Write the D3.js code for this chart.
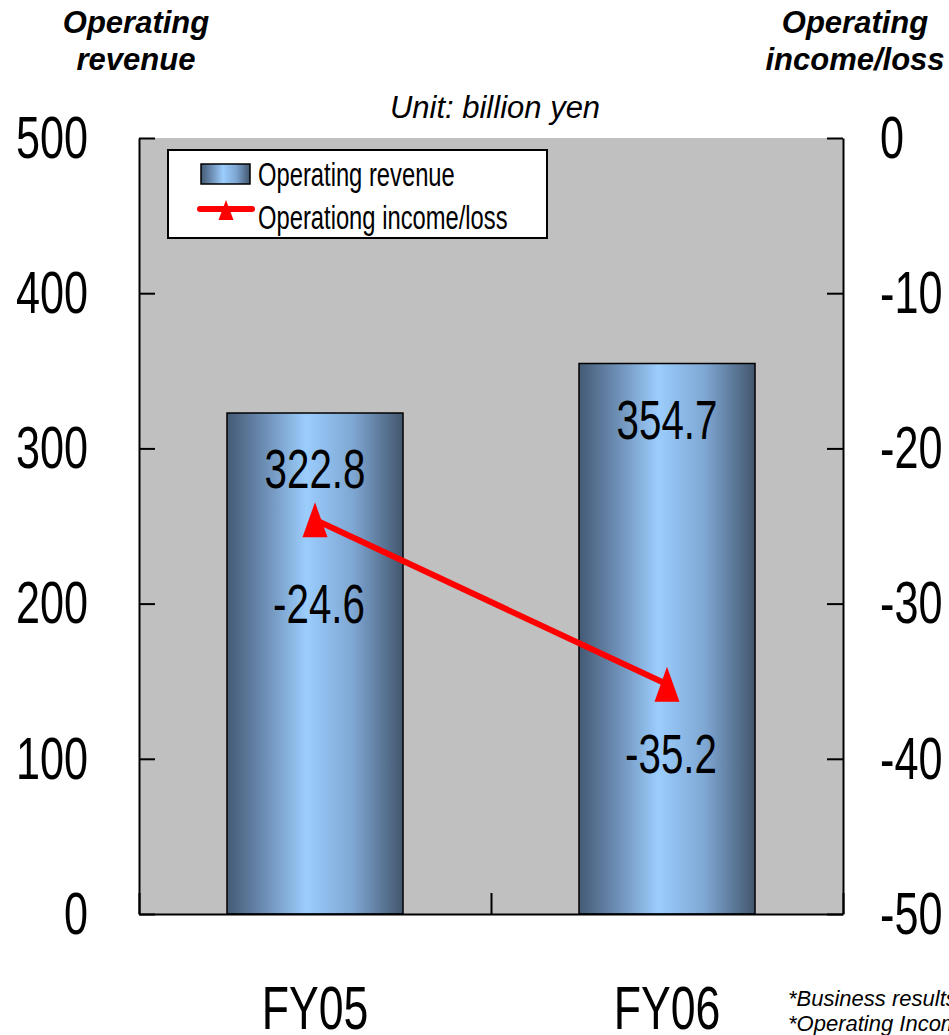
<!DOCTYPE html>
<html>
<head>
<meta charset="utf-8">
<script src="https://cdn.jsdelivr.net/npm/d3@7/dist/d3.min.js"></script>
<style>
  html, body { margin: 0; padding: 0; background: #ffffff; }
  svg { display: block; }
</style>
</head>
<body>
<svg id="chart" width="949" height="1035"></svg>
<script>
// Fiscal-year results: operating revenue (bars, left axis) and operating income/loss (line, right axis)
const categories = ["FY05", "FY06"];
const revenue = [322.8, 354.7];
const income = [-24.6, -35.2];
const revenueTicks = [0, 100, 200, 300, 400, 500];
const incomeTicks = [0, -10, -20, -30, -40, -50];

const SANS = "'Liberation Sans', Arial, Helvetica, sans-serif";
const SQUEEZE = 0.72; // horizontal condensing for the narrow number/label face

const svg = d3.select("#chart");
const plot = { left: 139, right: 843, top: 138, bottom: 914 };

const x = d3.scaleBand()
  .domain(categories)
  .range([plot.left, plot.right])
  .paddingInner(0.5)
  .paddingOuter(0.25);
const yRev = d3.scaleLinear().domain([0, 500]).range([plot.bottom, plot.top]);
const yInc = d3.scaleLinear().domain([-50, 0]).range([plot.bottom, plot.top]);
const xEdge = d3.scaleLinear().domain([0, categories.length]).range([plot.left, plot.right]);
const cx = d => x(d) + x.bandwidth() / 2;

// bar gradient
const defs = svg.append("defs");
const grad = defs.append("linearGradient").attr("id", "barGrad")
  .attr("x1", "0%").attr("x2", "100%").attr("y1", "0%").attr("y2", "0%");
[[0, "#445a74"], [0.18, "#6685aa"], [0.45, "#9bcdfd"], [0.72, "#7ea6d2"], [1, "#42566e"]]
  .forEach(([o, c]) => grad.append("stop").attr("offset", o).attr("stop-color", c));

// plot background
svg.append("rect")
  .attr("x", plot.left).attr("y", plot.top)
  .attr("width", plot.right - plot.left).attr("height", plot.bottom - plot.top)
  .attr("fill", "#c0c0c0");

// bars
svg.append("g").selectAll("rect")
  .data(categories)
  .join("rect")
  .attr("x", d => x(d))
  .attr("y", (d, i) => yRev(revenue[i]))
  .attr("width", x.bandwidth())
  .attr("height", (d, i) => yRev(0) - yRev(revenue[i]))
  .attr("fill", "url(#barGrad)")
  .attr("stroke", "#000")
  .attr("stroke-width", 1.5);

// condensed text placed at (tx, ty)
function narrow(sel, size, tx, ty) {
  sel.attr("font-family", SANS).attr("font-size", size).attr("fill", "#000")
    .attr("x", 0)
    .attr("transform", (d, i) => `translate(${tx(d, i)},${ty(d, i)}) scale(${SQUEEZE},1)`);
}

// left axis
const axL = svg.append("g").attr("transform", `translate(${plot.left},0)`)
  .call(d3.axisLeft(yRev).tickValues(revenueTicks).tickFormat(d => String(d))
    .tickSizeInner(-16).tickSizeOuter(0));
axL.select(".domain").attr("stroke", "#000").attr("stroke-width", 2);
axL.selectAll(".tick line").attr("stroke", "#000").attr("stroke-width", 2);
axL.selectAll(".tick text").call(narrow, 60, () => -51, () => 0);

// right axis
const axR = svg.append("g").attr("transform", `translate(${plot.right},0)`)
  .call(d3.axisRight(yInc).tickValues(incomeTicks).tickFormat(d => String(d))
    .tickSizeInner(-16).tickSizeOuter(0));
axR.select(".domain").attr("stroke", "#000").attr("stroke-width", 2);
axR.selectAll(".tick line").attr("stroke", "#000").attr("stroke-width", 2);
axR.selectAll(".tick text").call(narrow, 60, () => 37, () => 0);

// bottom axis with category boundary ticks
const axB = svg.append("g").attr("transform", `translate(0,${plot.bottom})`)
  .call(d3.axisBottom(xEdge).tickValues(d3.range(categories.length + 1))
    .tickSizeInner(-21).tickSizeOuter(0).tickFormat(""));
axB.select(".domain").attr("stroke", "#000").attr("stroke-width", 2);
axB.selectAll(".tick line").attr("stroke", "#000").attr("stroke-width", 2);

// category labels
svg.append("g").selectAll("text")
  .data(categories)
  .join("text")
  .attr("text-anchor", "middle")
  .call(narrow, 62, d => cx(d), () => plot.bottom + 115)
  .text(d => d);

// revenue value labels inside bars
svg.append("g").selectAll("text")
  .data(categories)
  .join("text")
  .attr("text-anchor", "middle")
  .call(narrow, 56, d => cx(d), (d, i) => yRev(revenue[i]) + 75)
  .text((d, i) => revenue[i].toFixed(1));

// income line
const line = d3.line()
  .x((d, i) => cx(categories[i]))
  .y(d => yInc(d));
svg.append("path")
  .datum(income)
  .attr("d", line)
  .attr("fill", "none")
  .attr("stroke", "#ff0000")
  .attr("stroke-width", 6);

const triBig = "M0,-17.5L12.5,17.5L-12.5,17.5Z";
svg.append("g").selectAll("path")
  .data(income)
  .join("path")
  .attr("transform", (d, i) => `translate(${cx(categories[i])},${yInc(d)})`)
  .attr("d", triBig)
  .attr("fill", "#ff0000");

// income value labels below markers
const incomeLabelDrop = [103, 89];
svg.append("g").selectAll("text")
  .data(income)
  .join("text")
  .attr("text-anchor", "middle")
  .call(narrow, 56, (d, i) => cx(categories[i]) + 4, (d, i) => yInc(d) + incomeLabelDrop[i])
  .text(d => d.toFixed(1));

// legend
const lg = svg.append("g");
lg.append("rect").attr("x", 168).attr("y", 150).attr("width", 379).attr("height", 88)
  .attr("fill", "#fff").attr("stroke", "#000").attr("stroke-width", 2);
lg.append("rect").attr("x", 201).attr("y", 164).attr("width", 49).attr("height", 20)
  .attr("fill", "url(#barGrad)").attr("stroke", "#000").attr("stroke-width", 1.5);
lg.append("line").attr("x1", 200).attr("x2", 252).attr("y1", 209).attr("y2", 209)
  .attr("stroke", "#ff0000").attr("stroke-width", 6).attr("stroke-linecap", "round");
lg.append("path").attr("transform", "translate(226,210)").attr("d", "M0,-10L7.5,10L-7.5,10Z").attr("fill", "#ff0000");
lg.selectAll("text.item")
  .data(["Operating revenue", "Operationg income/loss"])
  .join("text").attr("class", "item")
  .call(narrow, 33, () => 258, (d, i) => 186 + i * 43)
  .text(d => d);

// axis titles
function title(centerX, lines) {
  const t = svg.append("text").attr("text-anchor", "middle")
    .attr("font-family", SANS).attr("font-size", 31)
    .attr("font-weight", "bold").attr("font-style", "italic").attr("fill", "#000");
  lines.forEach((s, i) => t.append("tspan").attr("x", centerX).attr("y", 33 + i * 37).text(s));
}
title(136, ["Operating", "revenue"]);
title(855, ["Operating", "income/loss"]);

// unit note
svg.append("text").attr("x", 495).attr("y", 118).attr("text-anchor", "middle")
  .attr("font-family", SANS).attr("font-size", 31).attr("font-style", "italic")
  .attr("fill", "#000").text("Unit: billion yen");

// footnotes
const fn = svg.append("text").attr("font-family", SANS).attr("font-size", 22)
  .attr("font-style", "italic").attr("fill", "#000");
fn.append("tspan").attr("x", 788).attr("y", 1006).text("*Business results");
fn.append("tspan").attr("x", 788).attr("y", 1031).text("*Operating Income");
</script>
</body>
</html>
